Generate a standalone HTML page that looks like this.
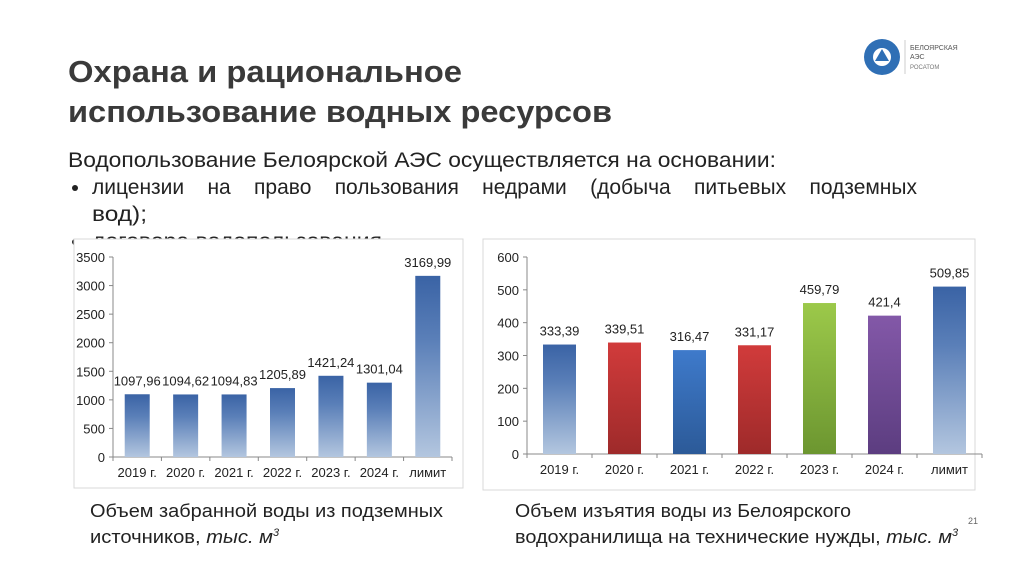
<!DOCTYPE html>
<html><head><meta charset="utf-8"><style>
html,body{margin:0;padding:0;background:#fff;}
svg{display:block;font-family:"Liberation Sans",sans-serif;}
</style></head><body>
<svg id="s" width="1024" height="574" viewBox="0 0 1024 574" xmlns="http://www.w3.org/2000/svg">
<defs>
<linearGradient id="gb" x1="0" y1="0" x2="0" y2="1"><stop offset="0" stop-color="#3a63a5"/><stop offset="0.35" stop-color="#5a7fb8"/><stop offset="1" stop-color="#b3c6df"/></linearGradient>
<linearGradient id="gr" x1="0" y1="0" x2="0" y2="1"><stop offset="0" stop-color="#d13b3b"/><stop offset="1" stop-color="#9e2a2a"/></linearGradient>
<linearGradient id="gb2" x1="0" y1="0" x2="0" y2="1"><stop offset="0" stop-color="#3e7acb"/><stop offset="1" stop-color="#2c5a98"/></linearGradient>
<linearGradient id="gg" x1="0" y1="0" x2="0" y2="1"><stop offset="0" stop-color="#9cc94a"/><stop offset="1" stop-color="#6c9630"/></linearGradient>
<linearGradient id="gp" x1="0" y1="0" x2="0" y2="1"><stop offset="0" stop-color="#8358a8"/><stop offset="1" stop-color="#5c3d80"/></linearGradient>
</defs>
<text x="68" y="82" font-size="31" font-weight="bold" fill="#3a3a3a" textLength="394" lengthAdjust="spacingAndGlyphs">Охрана и рациональное</text>
<text x="68" y="122" font-size="31" font-weight="bold" fill="#3a3a3a" textLength="544" lengthAdjust="spacingAndGlyphs">использование водных ресурсов</text>
<g>
<circle cx="882" cy="57" r="18" fill="#2f6fb5"/>
<circle cx="882" cy="57" r="9" fill="#fff"/>
<polygon points="882,49 889,61 875,61" fill="#2f6fb5"/>
<line x1="905" y1="40" x2="905" y2="74" stroke="#ccc"/>
<text x="910" y="50" font-size="7" fill="#555">БЕЛОЯРСКАЯ</text>
<text x="910" y="59" font-size="7" fill="#555">АЭС</text>
<text x="910" y="69" font-size="6" fill="#777">РОСАТОМ</text>
</g>
<text x="68" y="167" font-size="21" fill="#222" textLength="708" lengthAdjust="spacingAndGlyphs">Водопользование Белоярской АЭС осуществляется на основании:</text>
<circle cx="75" cy="188" r="3" fill="#222"/>
<text id="just" x="92" y="194" font-size="21" fill="#222">лицензии на право пользования недрами (добыча питьевых подземных</text>
<text x="92" y="221" font-size="21" fill="#222" textLength="55" lengthAdjust="spacingAndGlyphs">вод);</text>
<circle cx="75" cy="242" r="3" fill="#222"/>
<text x="92" y="248" font-size="21" fill="#222" textLength="290" lengthAdjust="spacingAndGlyphs">договора водопользования</text>
<rect x="74" y="239" width="389" height="249" fill="#fff" stroke="#d9d9d9"/>
<rect x="483" y="239" width="492" height="251" fill="#fff" stroke="#d9d9d9"/>
<g id="c1"></g>
<g id="c2"></g>
<text x="90" y="517" font-size="18" fill="#222" textLength="353" lengthAdjust="spacingAndGlyphs">Объем забранной воды из подземных</text>
<text x="90" y="543" font-size="18" fill="#222"><tspan textLength="183" lengthAdjust="spacingAndGlyphs">источников, <tspan font-style="italic">тыс. м</tspan></tspan><tspan font-style="italic" font-size="11" dy="-7">3</tspan></text>
<text x="515" y="517" font-size="18" fill="#222" textLength="336" lengthAdjust="spacingAndGlyphs">Объем изъятия воды из Белоярского</text>
<text x="515" y="543" font-size="18" fill="#222"><tspan textLength="437" lengthAdjust="spacingAndGlyphs">водохранилища на технические нужды, <tspan font-style="italic">тыс. м</tspan></tspan><tspan font-style="italic" font-size="11" dy="-7">3</tspan></text>
<text x="968" y="524" font-size="9" fill="#666">21</text>
</svg>
<script>
const cats = ["2019 г.","2020 г.","2021 г.","2022 г.","2023 г.","2024 г.","лимит"];
const vals1 = [1097.96,1094.62,1094.83,1205.89,1421.24,1301.04,3169.99];
const labels1 = ["1097,96","1094,62","1094,83","1205,89","1421,24","1301,04","3169,99"];
const ticks1 = [0,500,1000,1500,2000,2500,3000,3500];
const vals2 = [333.39,339.51,316.47,331.17,459.79,421.4,509.85];
const labels2 = ["333,39","339,51","316,47","331,17","459,79","421,4","509,85"];
const ticks2 = [0,100,200,300,400,500,600];
const fills2 = ["url(#gb)","url(#gr)","url(#gb2)","url(#gr)","url(#gg)","url(#gp)","url(#gb)"];
const NS="http://www.w3.org/2000/svg";
(function(){const t=document.getElementById("just");const w=t.getComputedTextLength();const gaps=t.textContent.split(" ").length-1;
 if(w<825){t.setAttribute("word-spacing",(825-w)/gaps);} else {t.setAttribute("textLength",825);t.setAttribute("lengthAdjust","spacingAndGlyphs");}})();
function mk(p,t,a){const e=document.createElementNS(NS,t);for(const k in a)e.setAttribute(k,a[k]);p.appendChild(e);return e;}
function draw(g,vals,labels,ticks,fills,o){
  const y=v=>o.y0-(v/o.max)*(o.y0-o.y1);
  const cw=(o.x1-o.x0)/cats.length;
  mk(g,"line",{x1:o.x0,y1:o.y1,x2:o.x0,y2:o.y0,stroke:"#888"});
  mk(g,"line",{x1:o.x0,y1:o.y0,x2:o.x1,y2:o.y0,stroke:"#888"});
  ticks.forEach(t=>{
    mk(g,"line",{x1:o.x0-4,y1:y(t),x2:o.x0,y2:y(t),stroke:"#888"});
    const tx=mk(g,"text",{x:o.x0-8,y:y(t)+5,"font-size":13,"text-anchor":"end",fill:"#222"});
    
    
    tx.textContent=t;
  });
  for(let i=0;i<=cats.length;i++) mk(g,"line",{x1:o.x0+i*cw,y1:o.y0,x2:o.x0+i*cw,y2:o.y0+4,stroke:"#888"});
  vals.forEach((v,i)=>{
    const cx=o.x0+cw*(i+0.5);
    const r=mk(g,"rect",{x:cx-o.bw/2,y:y(v),width:o.bw,height:o.y0-y(v),fill:fills[i]});
    
    
    const l=mk(g,"text",{x:cx,y:y(v)-9,"font-size":13,"text-anchor":"middle",fill:"#222"});
    
    
    l.textContent=labels[i];
    const c=mk(g,"text",{x:cx,y:o.y0+20,"font-size":13,"text-anchor":"middle",fill:"#222"});
    
    
    c.textContent=cats[i];
  });
}
draw(document.getElementById("c1"),vals1,labels1,ticks1,cats.map(()=>"url(#gb)"),{x0:113,x1:452,y0:457,y1:257,max:3500,bw:25});
draw(document.getElementById("c2"),vals2,labels2,ticks2,fills2,{x0:527,x1:982,y0:454,y1:257,max:600,bw:33});
</script>
</body></html>
